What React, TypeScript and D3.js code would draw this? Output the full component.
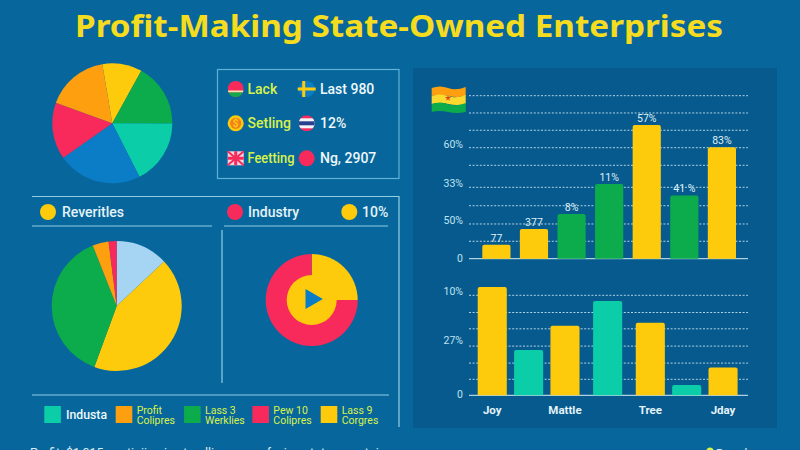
import * as d3 from 'd3';

const WIDTH = 800;
const HEIGHT = 450;

const YELLOW = '#fdcb0b';
const TEAL = '#0bcda8';
const GREEN = '#0cab4b';
const ORANGE = '#fd9f0e';
const RED = '#f72a5b';
const BLUE = '#0b7dc6';
const PALE_BLUE = '#a6d5f3';
const LIME = '#d8f24a';
const LINE = '#8fcfe4';
const TICK = '#bfe4f0';
const FONT = 'Roboto, "Open Sans", sans-serif';

const topPieValues = [10.7, 17, 17.5, 22.7, 15.3, 16.8];
const topPieColors = [YELLOW, GREEN, TEAL, BLUE, RED, ORANGE];

const lowerPieValues = [13, 42.6, 38.4, 4, 2];
const lowerPieColors = [PALE_BLUE, YELLOW, GREEN, ORANGE, RED];

const donutValues = [25, 75];
const donutColors = [YELLOW, RED];

const upperCategories = ['a', 'b', 'c', 'd', 'e', 'f', 'g'];
const upperValues = [8.6, 18.2, 27.4, 45.8, 82, 38.8, 68.3];
const upperColors = [YELLOW, YELLOW, GREEN, GREEN, YELLOW, GREEN, YELLOW];
const upperLabels = ['77', '377', '8%', '11%', '57%', '41 %', '83%'];
const upperGrid = [10.7, 21.3, 32.5, 43.8, 57.3, 68.1, 78.8, 89.4, 100];
const upperTicks = [0, 23, 46, 70];
const upperTickLabels = ['0', '50%', '33%', '60%'];

const lowerCategories = ['Joy', 'p', 'Mattle', 'q', 'Tree', 'r', 'Jday'];
const lowerValues = [108.4, 45.2, 69.5, 94.4, 72.5, 10.3, 27.9];
const lowerColors = [YELLOW, TEAL, YELLOW, TEAL, YELLOW, TEAL, YELLOW];
const lowerGroups = [0, 0, 0, 1, 2, 2, 2];
const lowerAxisLabels = ['Joy', '', 'Mattle', '', 'Tree', '', 'Jday'];
const lowerGrid = [16, 32.2, 49.2, 66.5, 82.8, 100];
const lowerTicks = [0, 54, 103];
const lowerTickLabels = ['0', '27%', '10%'];

const legendNames = ['Profit|Colipres', 'Lass 3|Werklies', 'Pew 10|Colipres', 'Lass 9|Corgres'];
const legendColors = [ORANGE, GREEN, RED, YELLOW];

const upperY = d3.scaleLinear().domain([0, 100]).range([258.7, 95.7]);
const upperX = d3.scaleBand().domain(upperCategories).range([482.3, 736]).paddingInner(0.25);
const lowerY = d3.scaleLinear().domain([0, 100]).range([395.3, 295.3]);
const lowerX = d3.scaleBand().domain(lowerCategories).range([477.7, 725]).paddingInner(0.2);
const legendX = d3.scalePoint().domain(legendNames).range([115.7, 320.7]);
const GROUP_GAP = 6.3;
const GRID_X: [number, number] = [469, 748];

// one pie, angles clockwise from 12 o'clock
const Pie = ({ cx, cy, r, values, colors, start = 0 }: {
  cx: number; cy: number; r: number; values: number[]; colors: string[]; start?: number;
}) => {
  const slices = d3.pie<number>().sort(null).startAngle(start).endAngle(start + Math.PI * 2)(values);
  const arc = d3.arc<d3.PieArcDatum<number>>().innerRadius(0).outerRadius(r);
  return (
    <g transform={`translate(${cx},${cy})`}>
      {slices.map((s, i) => <path key={i} d={arc(s) || ''} fill={colors[i]} />)}
    </g>
  );
};

const Bars = ({ categories, values, colors, x, y, offset }: {
  categories: string[]; values: number[]; colors: string[];
  x: d3.ScaleBand<string>; y: d3.ScaleLinear<number, number>; offset?: number[];
}) => (
  <g>
    {categories.map((c, i) => {
      const left = (x(c) || 0) + (offset ? offset[i] * GROUP_GAP : 0);
      const top = y(values[i]);
      const w = x.bandwidth();
      const h = y(0) - top;
      return <path key={c} fill={colors[i]} d={`M${left},${top + h}V${top + 2}q0,-2 2,-2H${left + w - 2}q2,0 2,2V${top + h}Z`} />;
    })}
  </g>
);

const Grid = ({ levels, y }: { levels: number[]; y: d3.ScaleLinear<number, number> }) => (
  <g stroke="#cfe9f3" strokeOpacity={0.85} strokeWidth={1}>
    {levels.map((l) => (
      <line key={l} x1={GRID_X[0]} x2={GRID_X[1]} y1={y(l)} y2={y(l)} strokeDasharray="2 1.6" />
    ))}
    <line x1={GRID_X[0]} x2={GRID_X[1]} y1={y(0)} y2={y(0)} stroke="#d7eef6" strokeOpacity={1} />
  </g>
);

const TickLabels = ({ ticks, labels, y }: { ticks: number[]; labels: string[]; y: d3.ScaleLinear<number, number> }) => (
  <g fontSize={10.5} fill={TICK} textAnchor="end">
    {ticks.map((t, i) => <text key={t} x={463} y={y(t) + 3}>{labels[i]}</text>)}
  </g>
);

const UkIcon = ({ cx, cy }: { cx: number; cy: number }) => (
  <g transform={`translate(${cx},${cy})`}>
    <rect x={-8} y={-7} width={16} height={14} fill="#f6d5e0" />
    <path d="M-8,-7L8,7M8,-7L-8,7" stroke={RED} strokeWidth={2} />
    <path d="M0,-7V7M-8,0H8" stroke={RED} strokeWidth={3} />
  </g>
);

const SwedenIcon = ({ cx, cy }: { cx: number; cy: number }) => (
  <g transform={`translate(${cx},${cy})`}>
    <circle r={8} fill={BLUE} />
    <path d="M-3,-8V8M-9,0H9" stroke={YELLOW} strokeWidth={3} />
  </g>
);

const ThaiIcon = ({ cx, cy }: { cx: number; cy: number }) => (
  <g transform={`translate(${cx},${cy})`}>
    <clipPath id="thai"><circle r={8} /></clipPath>
    <g clipPath="url(#thai)">
      <rect x={-8} y={-8} width={16} height={16} fill={RED} />
      <rect x={-8} y={-5} width={16} height={10} fill="#f3f4f8" />
      <rect x={-8} y={-2} width={16} height={4} fill="#27418f" />
    </g>
  </g>
);

const LackIcon = ({ cx, cy }: { cx: number; cy: number }) => (
  <g transform={`translate(${cx},${cy})`}>
    <clipPath id="lack"><circle r={8} /></clipPath>
    <g clipPath="url(#lack)">
      <rect x={-8} y={-8} width={16} height={16} fill={RED} />
      <rect x={-8} y={1.5} width={16} height={2} fill="#f0e7b0" />
      <rect x={-8} y={3.5} width={16} height={5} fill={GREEN} />
    </g>
  </g>
);

const CoinIcon = ({ cx, cy }: { cx: number; cy: number }) => (
  <g transform={`translate(${cx},${cy})`}>
    <circle r={8} fill={YELLOW} />
    <circle r={5.6} fill="#f2801e" />
    <text y={3.5} textAnchor="middle" fontSize={10} fontWeight={700} fill={YELLOW}>$</text>
  </g>
);

const FlagBanner = () => {
  const band = (top: number, h: number) =>
    `M431.7,${top + 1}Q440,${top - 2} 448,${top + 1}T465.7,${top}V${top + h}Q457,${top + h + 2} 448,${top + h}T431.7,${top + h}Z`;
  return (
    <g>
      <path d={band(87, 9)} fill={ORANGE} />
      <path d={band(95, 9)} fill="#fbd92f" />
      <path d={band(103, 9)} fill={GREEN} />
      <path d={d3.symbol().type(d3.symbolStar).size(12)() || ''} transform="translate(448,98)" fill="#e0451f" />
    </g>
  );
};

export default function App() {
  const triangle = d3.symbol().type(d3.symbolTriangle).size(173)() || '';
  return (
    <svg
      width={WIDTH}
      height={HEIGHT}
      viewBox={`0 0 ${WIDTH} ${HEIGHT}`}
      fontFamily={FONT}
      style={{ position: 'absolute', left: 0, top: 0, display: 'block' }}
    >
      <rect width={WIDTH} height={HEIGHT} fill="#07679c" />
      <rect x={413} y={68} width={364} height={360} fill="#075a8e" />

      <text x={399} y={37} textAnchor="middle" fontFamily='"Noto Sans", sans-serif' fontSize={31} fontWeight={700} fill="#f6dc1e" textLength={648} lengthAdjust="spacingAndGlyphs">
        Profit-Making State-Owned Enterprises
      </text>

      <Pie cx={112.3} cy={123.3} r={60} values={topPieValues} colors={topPieColors} start={(-9.6 * Math.PI) / 180} />

      {/* legend box */}
      <rect x={217.5} y={69.5} width={181.5} height={109} fill="none" stroke="#5fb2d6" strokeWidth={1.2} />
      <LackIcon cx={235.7} cy={89} />
      <CoinIcon cx={235.7} cy={123.3} />
      <UkIcon cx={235.7} cy={158.3} />
      <SwedenIcon cx={306.7} cy={89} />
      <ThaiIcon cx={306.7} cy={123.3} />
      <circle cx={306.7} cy={158.3} r={8} fill={RED} />
      <g fontSize={14} fontWeight={500} fill={LIME}>
        <text x={247.5} y={94}>Lack</text>
        <text x={247.5} y={128}>Setling</text>
        <text x={247.5} y={163} textLength={47} lengthAdjust="spacingAndGlyphs">Feetting</text>
      </g>
      <g fontSize={14} fontWeight={500} fill="#eef8fb">
        <text x={320} y={94}>Last 980</text>
        <text x={320} y={128}>12%</text>
        <text x={320} y={163}>Ng, 2907</text>
      </g>

      {/* lower left frame */}
      <g stroke={LINE} strokeWidth={1.2} fill="none">
        <path d="M32,196.5H399V427" />
        <path d="M32,226H212M224,226H388" />
        <path d="M222,230V383" />
        <path d="M32,395H389" />
      </g>
      <circle cx={48} cy={212} r={8} fill={YELLOW} />
      <circle cx={235} cy={212} r={8} fill={RED} />
      <circle cx={349.3} cy={212} r={8} fill={YELLOW} />
      <g fontSize={14} fontWeight={500} fill="#e4f3f8">
        <text x={62} y={217}>Reveritles</text>
        <text x={248} y={217}>Industry</text>
        <text x={362} y={217}>10%</text>
      </g>

      <Pie cx={116.7} cy={306} r={65} values={lowerPieValues} colors={lowerPieColors} />

      <Pie cx={311.7} cy={300} r={46} values={donutValues} colors={donutColors} />
      <circle cx={311.7} cy={300} r={25} fill={YELLOW} />
      <path d={triangle} transform="translate(311.3,299) rotate(90)" fill={BLUE} />

      {/* legend row */}
      <rect x={44.3} y={406} width={16.6} height={17} fill={TEAL} />
      <text x={66} y={419} fontSize={13.5} fontWeight={500} fill="#eef8fb" textLength={41} lengthAdjust="spacingAndGlyphs">Industa</text>
      {legendNames.map((name, i) => {
        const left = legendX(name) || 0;
        const [first, second] = name.split('|');
        return (
          <g key={name}>
            <rect x={left} y={406} width={16.6} height={17} fill={legendColors[i]} />
            <text fontSize={10.5} fill={LIME} x={left + 21} y={414}>{first}</text>
            <text fontSize={10.5} fill={LIME} x={left + 21} y={424}>{second}</text>
          </g>
        );
      })}

      {/* upper bar chart */}
      <FlagBanner />
      <Grid levels={upperGrid} y={upperY} />
      <Bars categories={upperCategories} values={upperValues} colors={upperColors} x={upperX} y={upperY} />
      <TickLabels ticks={upperTicks} labels={upperTickLabels} y={upperY} />
      <g fontSize={10.5} fill="#dff1f7" textAnchor="middle">
        {upperCategories.map((c, i) => (
          <text key={c} x={(upperX(c) || 0) + upperX.bandwidth() / 2} y={upperY(upperValues[i]) - 3}>{upperLabels[i]}</text>
        ))}
      </g>

      {/* lower bar chart */}
      <Grid levels={lowerGrid} y={lowerY} />
      <Bars categories={lowerCategories} values={lowerValues} colors={lowerColors} x={lowerX} y={lowerY} offset={lowerGroups} />
      <TickLabels ticks={lowerTicks} labels={lowerTickLabels} y={lowerY} />
      <g fontSize={11.5} fontWeight={700} fill="#e4f3f8" textAnchor="middle">
        {lowerCategories.map((c, i) => (
          <text key={c} x={(lowerX(c) || 0) + lowerX.bandwidth() / 2 + lowerGroups[i] * GROUP_GAP} y={414}>{lowerAxisLabels[i]}</text>
        ))}
      </g>

      {/* footer, cut off by the bottom edge */}
      <text x={30} y={457} fontSize={13} fill="#dcecf3" textLength={362} lengthAdjust="spacingAndGlyphs">Profit: $1,015 continiing in standling a vary faying state overstains</text>
      <circle cx={710} cy={451} r={3.5} fill={LIME} />
      <text x={716} y={458} fontSize={12} fill="#dcecf3">Brand</text>
    </svg>
  );
}
